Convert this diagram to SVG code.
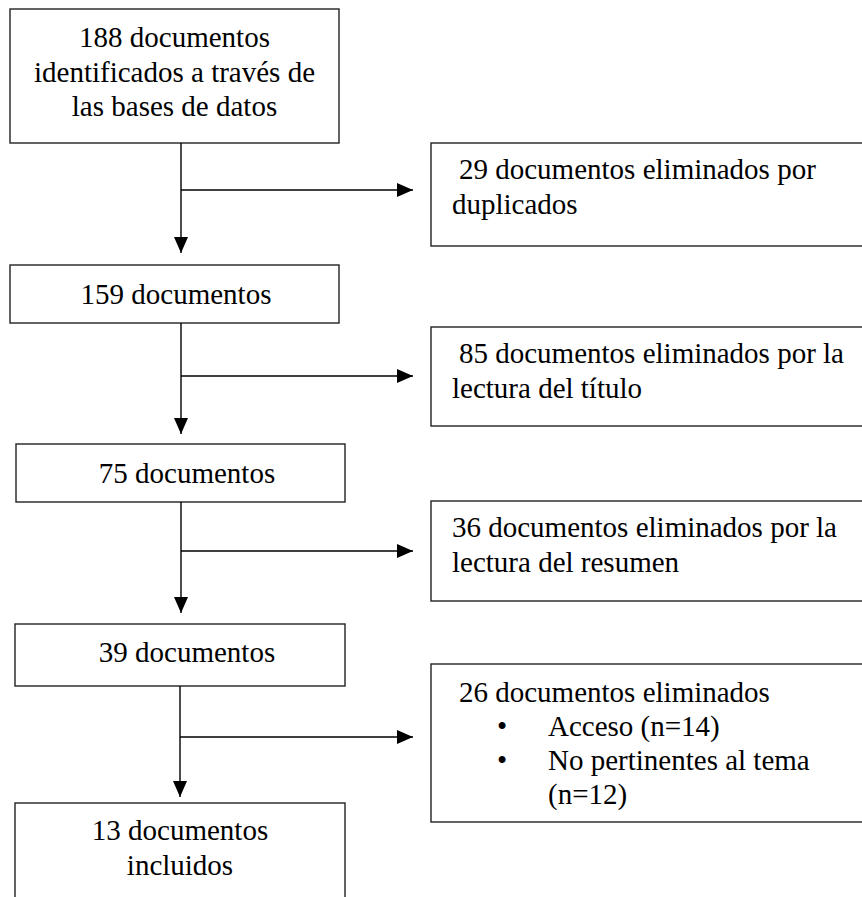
<svg xmlns="http://www.w3.org/2000/svg" width="862" height="897" viewBox="0 0 862 897">
<defs>
<style>
.box{fill:#fff;stroke:#222;stroke-width:1.4}
.t{font-family:"Liberation Serif","Times New Roman",serif;font-size:29px;fill:#000}
.c{text-anchor:middle}
.ln{fill:none;stroke:#000;stroke-width:1.4}
</style>
<marker id="ah" viewBox="0 0 16 14" refX="16" refY="7" markerWidth="16" markerHeight="14" orient="auto" markerUnits="userSpaceOnUse">
<path d="M0,0 L16,7 L0,14 z" fill="#000"/>
</marker>
</defs>
<rect width="862" height="897" fill="#fff"/>

<g id="n188">
<rect class="box" x="10" y="9" width="329" height="134"/>
<text class="t c" x="174.5" y="47">188 documentos</text>
<text class="t c" x="174.5" y="82">identificados a través de</text>
<text class="t c" x="174.5" y="116">las bases de datos</text>
</g>

<g id="n29">
<rect class="box" x="431" y="143" width="440" height="103"/>
<text class="t" x="459" y="179">29 documentos eliminados por</text>
<text class="t" x="452" y="214">duplicados</text>
</g>

<g id="n159">
<rect class="box" x="10" y="265" width="329" height="58"/>
<text class="t c" x="176" y="304">159 documentos</text>
</g>

<g id="n85">
<rect class="box" x="431" y="327" width="440" height="99"/>
<text class="t" x="459" y="363">85 documentos eliminados por la</text>
<text class="t" x="452" y="398">lectura del título</text>
</g>

<g id="n75">
<rect class="box" x="16" y="444" width="329" height="58"/>
<text class="t c" x="187" y="483">75 documentos</text>
</g>

<g id="n36">
<rect class="box" x="431" y="501" width="440" height="100"/>
<text class="t" x="452" y="537">36 documentos eliminados por la</text>
<text class="t" x="452" y="572">lectura del resumen</text>
</g>

<g id="n39">
<rect class="box" x="15" y="624" width="330" height="62"/>
<text class="t c" x="187" y="662">39 documentos</text>
</g>

<g id="n26">
<rect class="box" x="431" y="664" width="440" height="158"/>
<text class="t" x="459" y="702">26 documentos eliminados</text>
<text class="t" x="497" y="736">•</text>
<text class="t" x="548" y="736">Acceso (n=14)</text>
<text class="t" x="497" y="770">•</text>
<text class="t" x="548" y="770">No pertinentes al tema</text>
<text class="t" x="548" y="804">(n=12)</text>
</g>

<g id="n13">
<rect class="box" x="15" y="803" width="330" height="110"/>
<text class="t c" x="180" y="840">13 documentos</text>
<text class="t c" x="180" y="875">incluidos</text>
</g>

<g id="connectors">
<line class="ln" x1="181" y1="143" x2="181" y2="253" marker-end="url(#ah)"/>
<line class="ln" x1="181" y1="190" x2="413" y2="190" marker-end="url(#ah)"/>
<line class="ln" x1="181" y1="323" x2="181" y2="434" marker-end="url(#ah)"/>
<line class="ln" x1="181" y1="376" x2="413" y2="376" marker-end="url(#ah)"/>
<line class="ln" x1="181" y1="502" x2="181" y2="613" marker-end="url(#ah)"/>
<line class="ln" x1="181" y1="551" x2="413" y2="551" marker-end="url(#ah)"/>
<line class="ln" x1="180" y1="686" x2="180" y2="797" marker-end="url(#ah)"/>
<line class="ln" x1="180" y1="737" x2="413" y2="737" marker-end="url(#ah)"/>
</g>
</svg>
